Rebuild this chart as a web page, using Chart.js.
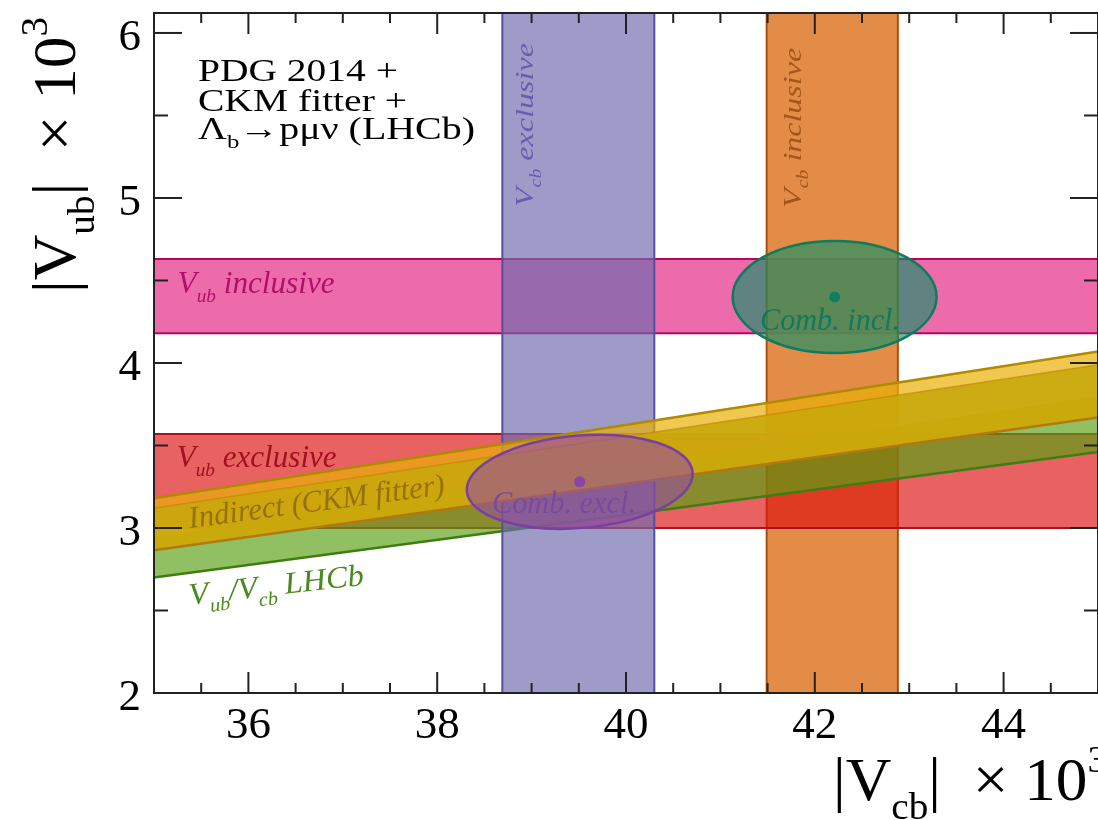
<!DOCTYPE html>
<html>
<head>
<meta charset="utf-8">
<script src="https://cdn.jsdelivr.net/npm/chart.js@4.4.1/dist/chart.umd.min.js"></script>
<style>
  html, body { margin: 0; padding: 0; background: #fff; }
</style>
</head>
<body>
<canvas id="graf" width="1098" height="820"></canvas>
<script>
// ===================================================================
// DATA (values x 10^3)
// ===================================================================
// vertical bands, |Vcb|
const vcbNames = ['V_{cb} exclusive', 'V_{cb} inclusive'];
const vcbLow   = [38.69, 41.49];
const vcbHigh  = [40.30, 42.88];

// horizontal bands, |Vub|
const vubNames = ['V_{ub} inclusive', 'V_{ub} exclusive'];
const vubLow   = [4.18, 3.00];
const vubHigh  = [4.63, 3.57];

// slanted |Vub|/|Vcb| bands, edges read at x = 35 and x = 45
const edgeX        = [35, 45];
const lhcbLow      = [2.70, 3.46];
const lhcbHigh     = [2.95, 3.80];
const ckmLow       = [2.865, 3.67];
const ckmHigh      = [3.18, 4.07];
const ckmInnerHigh = [3.12, 3.99];

// combined fits: centre and half widths
const combNames = ['Comb. incl.', 'Comb. excl.'];
const combX  = [42.21, 39.51];
const combY  = [4.40, 3.28];
const combDX = [1.08, 1.20];
const combDY = [0.34, 0.28];

// tick labels
const xTickLabels = [36, 38, 40, 42, 44];
const yTickLabels = [2, 3, 4, 5, 6];
// ===================================================================

const FONT = '"Liberation Serif", "Times New Roman", serif';

// split 'V_{ub} text' into pieces with sub/superscripts
const parseRich = (s) => {
    const parts = [];
    const re = /([_^])\{([^}]*)\}/g;
    let last = 0, m;
    while ((m = re.exec(s)) !== null) {
        if (m.index > last) parts.push({ t: s.slice(last, m.index) });
        parts.push({ t: m[2], sub: m[1] === '_', sup: m[1] === '^' });
        last = re.lastIndex;
    }
    if (last < s.length) parts.push({ t: s.slice(last) });
    return parts;
};

const setFont = (ctx, p, o) => {
    const s = (p.sub || p.sup) ? o.size * 0.62 : o.size;
    ctx.font = `${o.italic ? 'italic ' : ''}${s}px ${FONT}`;
};

// draw text with sub/superscripts, stretched along the baseline to a given width
const drawRich = (ctx, text, x, y, o) => {
    const parts = parseRich(text);
    ctx.save();
    let w = 0;
    parts.forEach(p => { setFont(ctx, p, o); w += ctx.measureText(p.t).width; });
    ctx.translate(x, y);
    ctx.rotate(-(o.angle || 0) * Math.PI / 180);
    if (o.width) ctx.scale(o.width / w, 1);
    ctx.fillStyle = o.color || '#000';
    ctx.textBaseline = 'alphabetic';
    ctx.textAlign = 'left';
    let cx = 0;
    parts.forEach(p => {
        setFont(ctx, p, o);
        const dy = p.sub ? o.size * 0.3 : (p.sup ? -o.size * 0.45 : 0);
        ctx.fillText(p.t, cx, dy);
        cx += ctx.measureText(p.t).width;
    });
    ctx.restore();
};

// bands and ellipses go under the centre points
const bandPlugin = {
    id: 'bands',
    beforeDatasetsDraw(chart) {
        const ctx = chart.ctx;
        const sx = chart.scales.x, sy = chart.scales.y;
        const px = v => sx.getPixelForValue(v);
        const py = v => sy.getPixelForValue(v);
        const { left, right, top, bottom } = chart.chartArea;

        const edge = (x1, y1, x2, y2, color, lw) => {
            ctx.beginPath();
            ctx.moveTo(x1, y1);
            ctx.lineTo(x2, y2);
            ctx.strokeStyle = color;
            ctx.lineWidth = lw;
            ctx.stroke();
        };
        const hband = (i, fill, line) => {
            const y1 = py(vubHigh[i]), y2 = py(vubLow[i]);
            ctx.fillStyle = fill;
            ctx.fillRect(left, y1, right - left, y2 - y1);
            edge(left, y1, right, y1, line, 2);
            edge(left, y2, right, y2, line, 2);
        };
        const vband = (i, fill, line) => {
            const x1 = px(vcbLow[i]), x2 = px(vcbHigh[i]);
            ctx.fillStyle = fill;
            ctx.fillRect(x1, top, x2 - x1, bottom - top);
            edge(x1, top, x1, bottom, line, 2);
            edge(x2, top, x2, bottom, line, 2);
        };
        const slant = (lo, hi, fill) => {
            ctx.beginPath();
            ctx.moveTo(px(edgeX[0]), py(lo[0]));
            ctx.lineTo(px(edgeX[1]), py(lo[1]));
            ctx.lineTo(px(edgeX[1]), py(hi[1]));
            ctx.lineTo(px(edgeX[0]), py(hi[0]));
            ctx.closePath();
            ctx.fillStyle = fill;
            ctx.fill();
        };
        const slantEdge = (e, color, lw) => edge(px(edgeX[0]), py(e[0]), px(edgeX[1]), py(e[1]), color, lw);

        ctx.save();
        ctx.beginPath();
        ctx.rect(left, top, right - left, bottom - top);
        ctx.clip();

        hband(0, 'rgba(232,70,150,0.8)', '#b8045c');     // Vub inclusive
        vband(1, 'rgba(222,120,40,0.85)', '#a9500f');    // Vcb inclusive
        hband(1, 'rgba(221,16,16,0.66)', '#b0101c');     // Vub exclusive
        slant(lhcbLow, lhcbHigh, 'rgba(90,161,19,0.67)'); // LHCb
        slantEdge(lhcbLow, '#3f7d12', 2.5);
        vband(0, 'rgba(111,106,175,0.67)', '#55509e');   // Vcb exclusive
        slant(ckmLow, ckmHigh, 'rgba(233,176,5,0.7)');   // CKM fitter outer
        slantEdge(ckmHigh, '#b08a00', 2.5);
        slant(ckmLow, ckmInnerHigh, 'rgba(202,168,12,0.9)'); // CKM fitter inner
        slantEdge(ckmInnerHigh, 'rgba(190,130,10,0.6)', 1.5);
        slantEdge(ckmLow, '#b07a10', 2.5);

        // combined ellipses
        const ell = [
            { fill: 'rgba(10,145,105,0.62)', line: '#0e7a5e', tilt: 0 },
            { fill: 'rgba(150,75,160,0.6)', line: '#7a3fa0', tilt: -4.8 }
        ];
        combX.forEach((cx, i) => {
            const rx = px(cx + combDX[i]) - px(cx);
            const ry = py(combY[i]) - py(combY[i] + combDY[i]);
            ctx.beginPath();
            ctx.ellipse(px(cx), py(combY[i]), rx, ry, ell[i].tilt * Math.PI / 180, 0, 2 * Math.PI);
            ctx.fillStyle = ell[i].fill;
            ctx.fill();
            ctx.strokeStyle = ell[i].line;
            ctx.lineWidth = 2.5;
            ctx.stroke();
        });
        ctx.restore();
    }
};

// labels, frame, ticks and axis titles
const framePlugin = {
    id: 'frame',
    afterDatasetsDraw(chart) {
        const ctx = chart.ctx;
        const sx = chart.scales.x, sy = chart.scales.y;
        const px = v => sx.getPixelForValue(v);
        const py = v => sy.getPixelForValue(v);
        const { left, right, top, bottom } = chart.chartArea;

        // labels inside the plot, anchored in data units
        const inPlot = [
            { t: vubNames[0], x: 35.25, y: 4.425, color: '#b0106a', size: 31, width: 157 },
            { t: vubNames[1], x: 35.24, y: 3.37, color: '#a3101f', size: 31, width: 160 },
            { t: 'Indirect (CKM fitter)', x: 35.38, y: 3.0, color: 'rgba(140,105,10,0.85)', size: 31, width: 258, angle: 7.5 },
            { t: 'V_{ub}/V_{cb} LHCb', x: 35.38, y: 2.535, color: '#4a8a1e', size: 31, width: 176, angle: 6.5 },
            { t: combNames[1], x: 38.58, y: 3.09, color: '#7a4a9c', size: 32, width: 144 },
            { t: combNames[0], x: 41.42, y: 4.20, color: '#0e7a5e', size: 31, width: 140 },
            { t: vcbNames[0], x: 39.02, y: 4.945, color: '#655fae', size: 26, width: 164, angle: 90 },
            { t: vcbNames[1], x: 41.85, y: 4.94, color: '#a4561a', size: 26, width: 160, angle: 90 }
        ];
        inPlot.forEach(l => drawRich(ctx, l.t, px(l.x), py(l.y),
            { size: l.size, italic: true, color: l.color, width: l.width, angle: l.angle || 0 }));

        // info block
        drawRich(ctx, 'PDG 2014 +', 198, 81, { size: 31, width: 200 });
        drawRich(ctx, 'CKM fitter +', 198, 111, { size: 31, width: 209 });
        drawRich(ctx, 'Λ_{b}→pμν (LHCb)', 198, 139, { size: 31, width: 277 });

        // frame
        ctx.save();
        ctx.strokeStyle = '#222';
        ctx.lineWidth = 2;
        ctx.strokeRect(left, top, right - left, bottom - top);

        const tick = (x1, y1, x2, y2) => {
            ctx.beginPath();
            ctx.moveTo(x1, y1);
            ctx.lineTo(x2, y2);
            ctx.stroke();
        };
        // x ticks (bottom and top), minor every 0.5
        for (let v = 35.5; v < 45; v += 0.5) {
            const major = xTickLabels.includes(v);
            const len = major ? 21 : 10;
            tick(px(v), bottom, px(v), bottom - len);
            tick(px(v), top, px(v), top + len);
        }
        // y ticks (left and right), minor every 0.5
        for (let v = 2.5; v < 6.1; v += 0.5) {
            const major = yTickLabels.includes(v);
            const len = major ? 28 : 14;
            tick(left, py(v), left + len, py(v));
            tick(right, py(v), right - len, py(v));
        }
        ctx.restore();

        // tick labels
        ctx.save();
        ctx.fillStyle = '#000';
        ctx.font = `45px ${FONT}`;
        ctx.textBaseline = 'alphabetic';
        ctx.textAlign = 'center';
        xTickLabels.forEach(v => ctx.fillText(String(v), px(v), 738));
        ctx.textAlign = 'right';
        yTickLabels.forEach(v => ctx.fillText(String(v), 141, py(v) + 17));
        ctx.restore();

        // axis titles
        drawRich(ctx, '|V_{cb}|  × 10^{3}', 833, 800, { size: 62, width: 274 });
        drawRich(ctx, '|V_{ub}|  × 10^{3}', 75, 293, { size: 62, width: 276, angle: 90 });
    }
};

const ctx = document.getElementById('graf').getContext('2d');
new Chart(ctx, {
    type: 'scatter',
    data: {
        datasets: [{
            label: 'centres',
            data: combX.map((x, i) => ({ x: x, y: combY[i] })),
            pointRadius: 5.5,
            pointHoverRadius: 5.5,
            pointBorderWidth: 0,
            pointBackgroundColor: ['#0f7f62', '#8a44a6']
        }]
    },
    options: {
        responsive: false,
        animation: false,
        layout: { autoPadding: false, padding: { left: 154, top: 13, bottom: 127, right: -3 } },
        scales: {
            x: { type: 'linear', min: 35, max: 45, display: false },
            y: { type: 'linear', min: 2, max: 6.121, display: false }
        },
        plugins: {
            legend: { display: false },
            tooltip: { enabled: false }
        }
    },
    plugins: [bandPlugin, framePlugin]
});
</script>
</body>
</html>
